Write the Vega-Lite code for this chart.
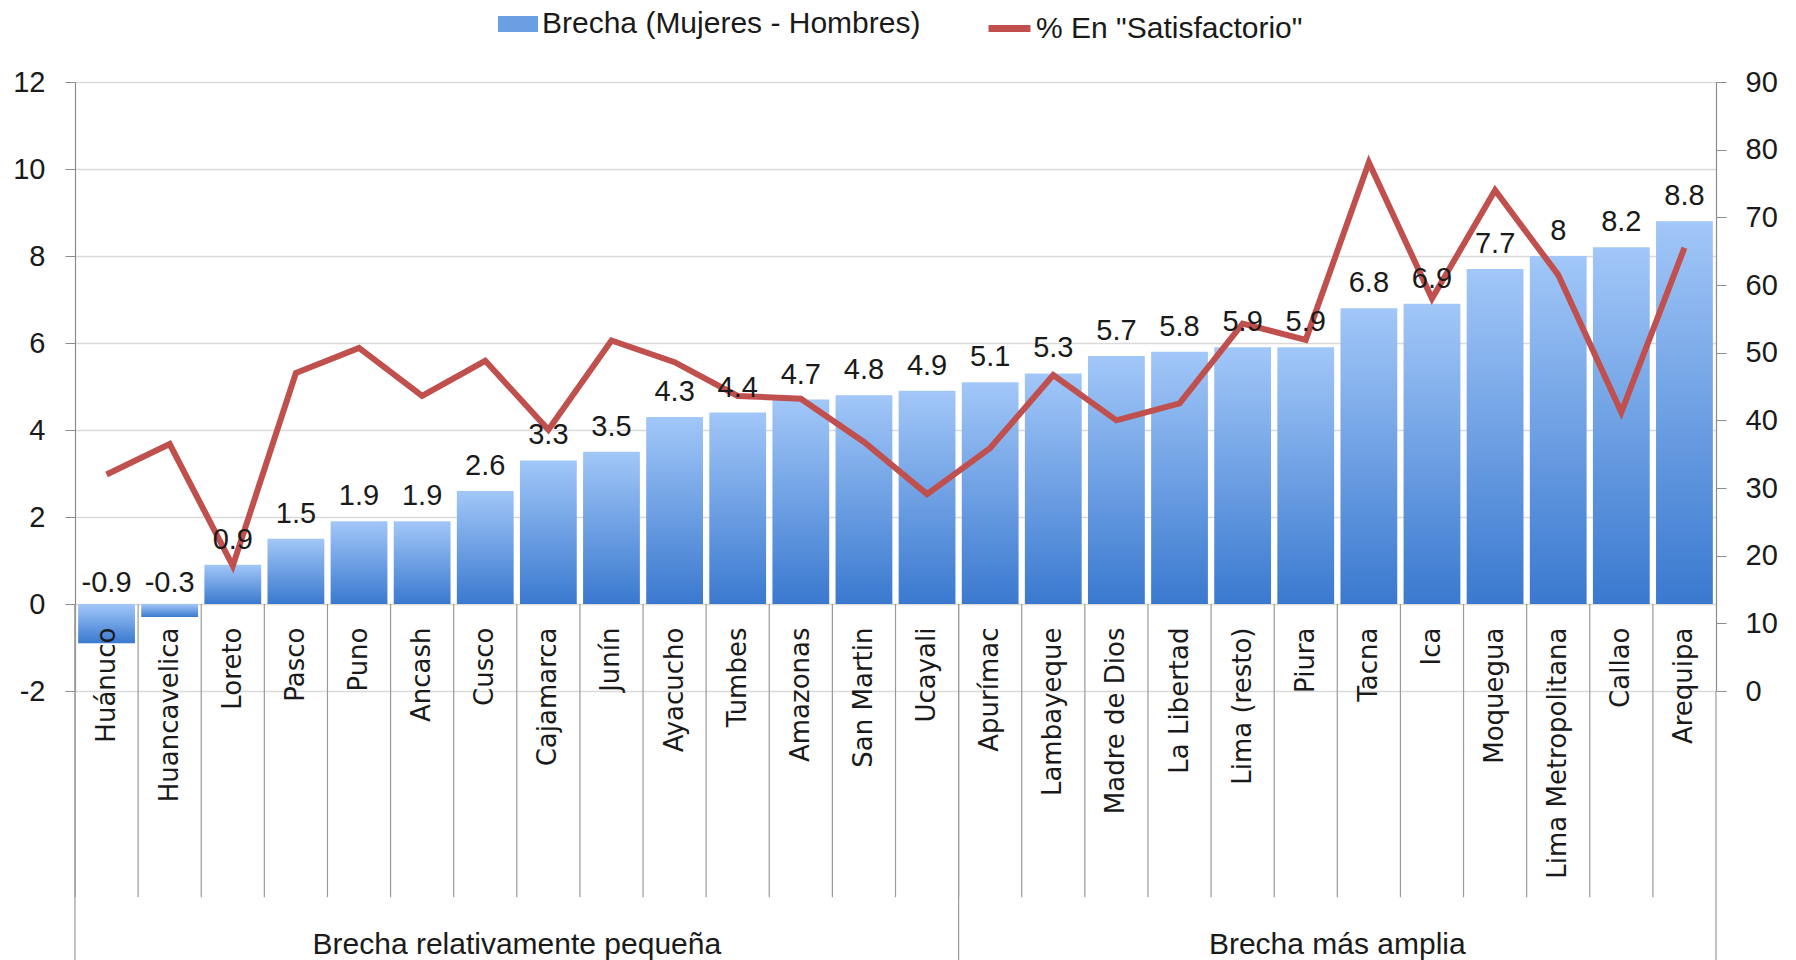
{
  "$schema": "https://vega.github.io/schema/vega-lite/v6.json",
  "width": 1641,
  "height": 609,
  "autosize": {"type": "none"},
  "padding": {"left": 75, "top": 82, "right": 80, "bottom": 269},
  "background": "white",
  "config": {
    "view": {"stroke": null},
    "scale": {"bandPaddingInner": 0, "bandPaddingOuter": 0},
    "axisBottom": {"offset": -87, "domain": false, "ticks": false, "grid": false, "labelAngle": 270, "labelPadding": 23, "labelFont": "DejaVu Sans", "labelFontSize": 26, "labelColor": "#1a1a1a", "labelLimit": 0, "labelOverlap": false},
    "axisLeft": {"grid": true, "gridColor": "#d9d9d9", "gridWidth": 1.5, "domainColor": "#8c8c8c", "domainWidth": 1.2, "tickColor": "#8c8c8c", "tickSize": 10, "labelPadding": 20, "labelFont": "Liberation Sans", "labelFontSize": 29, "labelColor": "#1a1a1a"},
    "axisRight": {"grid": false, "domainColor": "#8c8c8c", "domainWidth": 1.2, "tickColor": "#8c8c8c", "tickSize": 10, "labelPadding": 19, "labelFont": "Liberation Sans", "labelFontSize": 29, "labelColor": "#1a1a1a"}
  },
  "data": {"values": [
    {"region": "Huánuco", "brecha": -0.9, "pct": 32.0, "grupo": "Brecha relativamente pequeña"},
    {"region": "Huancavelica", "brecha": -0.3, "pct": 36.5, "grupo": "Brecha relativamente pequeña"},
    {"region": "Loreto", "brecha": 0.9, "pct": 18.5, "grupo": "Brecha relativamente pequeña"},
    {"region": "Pasco", "brecha": 1.5, "pct": 47.0, "grupo": "Brecha relativamente pequeña"},
    {"region": "Puno", "brecha": 1.9, "pct": 50.7, "grupo": "Brecha relativamente pequeña"},
    {"region": "Ancash", "brecha": 1.9, "pct": 43.6, "grupo": "Brecha relativamente pequeña"},
    {"region": "Cusco", "brecha": 2.6, "pct": 48.8, "grupo": "Brecha relativamente pequeña"},
    {"region": "Cajamarca", "brecha": 3.3, "pct": 38.6, "grupo": "Brecha relativamente pequeña"},
    {"region": "Junín", "brecha": 3.5, "pct": 51.8, "grupo": "Brecha relativamente pequeña"},
    {"region": "Ayacucho", "brecha": 4.3, "pct": 48.6, "grupo": "Brecha relativamente pequeña"},
    {"region": "Tumbes", "brecha": 4.4, "pct": 43.6, "grupo": "Brecha relativamente pequeña"},
    {"region": "Amazonas", "brecha": 4.7, "pct": 43.2, "grupo": "Brecha relativamente pequeña"},
    {"region": "San Martin", "brecha": 4.8, "pct": 36.8, "grupo": "Brecha relativamente pequeña"},
    {"region": "Ucayali", "brecha": 4.9, "pct": 29.1, "grupo": "Brecha relativamente pequeña"},
    {"region": "Apurímac", "brecha": 5.1, "pct": 35.9, "grupo": "Brecha más amplia"},
    {"region": "Lambayeque", "brecha": 5.3, "pct": 46.7, "grupo": "Brecha más amplia"},
    {"region": "Madre de Dios", "brecha": 5.7, "pct": 40.0, "grupo": "Brecha más amplia"},
    {"region": "La Libertad", "brecha": 5.8, "pct": 42.5, "grupo": "Brecha más amplia"},
    {"region": "Lima (resto)", "brecha": 5.9, "pct": 54.3, "grupo": "Brecha más amplia"},
    {"region": "Piura", "brecha": 5.9, "pct": 51.9, "grupo": "Brecha más amplia"},
    {"region": "Tacna", "brecha": 6.8, "pct": 78.1, "grupo": "Brecha más amplia"},
    {"region": "Ica", "brecha": 6.9, "pct": 58.0, "grupo": "Brecha más amplia"},
    {"region": "Moquegua", "brecha": 7.7, "pct": 74.0, "grupo": "Brecha más amplia"},
    {"region": "Lima Metropolitana", "brecha": 8.0, "pct": 61.5, "grupo": "Brecha más amplia"},
    {"region": "Callao", "brecha": 8.2, "pct": 41.2, "grupo": "Brecha más amplia"},
    {"region": "Arequipa", "brecha": 8.8, "pct": 65.5, "grupo": "Brecha más amplia"}
  ]},
  "layer": [
    {
      "layer": [
        {
          "mark": {"type": "bar", "width": {"band": 0.9},
            "fill": {"gradient": "linear", "x1": 0, "y1": 0, "x2": 0, "y2": 1, "stops": [{"offset": 0, "color": "#a2c7f8"}, {"offset": 1, "color": "#3a79cf"}]}},
          "encoding": {
            "x": {"field": "region", "type": "nominal",
              "scale": {"domain": ["Huánuco","Huancavelica","Loreto","Pasco","Puno","Ancash","Cusco","Cajamarca","Junín","Ayacucho","Tumbes","Amazonas","San Martin","Ucayali","Apurímac","Lambayeque","Madre de Dios","La Libertad","Lima (resto)","Piura","Tacna","Ica","Moquegua","Lima Metropolitana","Callao","Arequipa"]},
              "axis": {"title": null, "zindex": 1}},
            "y": {"field": "brecha", "type": "quantitative",
              "scale": {"domain": [-2, 12], "nice": false, "zero": false},
              "axis": {"title": null, "values": [-2, 0, 2, 4, 6, 8, 10, 12], "labelExpr": "datum.value < 0 ? '-' + abs(datum.value) : datum.label"}}
          }
        },
        {
          "mark": {"type": "rule", "color": "#9a9a9a", "strokeWidth": 1.2},
          "encoding": {
            "x": {"field": "region", "type": "nominal", "bandPosition": 0,
              "scale": {"domain": ["Huánuco","Huancavelica","Loreto","Pasco","Puno","Ancash","Cusco","Cajamarca","Junín","Ayacucho","Tumbes","Amazonas","San Martin","Ucayali","Apurímac","Lambayeque","Madre de Dios","La Libertad","Lima (resto)","Piura","Tacna","Ica","Moquegua","Lima Metropolitana","Callao","Arequipa"]}, "axis": {"title": null, "zindex": 1}},
            "y": {"datum": 0, "type": "quantitative", "scale": {"domain": [-2, 12], "nice": false, "zero": false}, "axis": {"title": null, "values": [-2, 0, 2, 4, 6, 8, 10, 12]}},
            "y2": {"datum": -6.74}
          }
        },
        {
          "transform": [{"filter": "datum.region == 'Huánuco' || datum.region == 'Apurímac'"}],
          "mark": {"type": "rule", "color": "#9a9a9a", "strokeWidth": 1.2},
          "encoding": {
            "x": {"field": "region", "type": "nominal", "bandPosition": 0,
              "scale": {"domain": ["Huánuco","Huancavelica","Loreto","Pasco","Puno","Ancash","Cusco","Cajamarca","Junín","Ayacucho","Tumbes","Amazonas","San Martin","Ucayali","Apurímac","Lambayeque","Madre de Dios","La Libertad","Lima (resto)","Piura","Tacna","Ica","Moquegua","Lima Metropolitana","Callao","Arequipa"]}, "axis": {"title": null, "zindex": 1}},
            "y": {"datum": 0, "type": "quantitative", "scale": {"domain": [-2, 12], "nice": false, "zero": false}, "axis": {"title": null, "values": [-2, 0, 2, 4, 6, 8, 10, 12]}},
            "y2": {"datum": -8.4}
          }
        },
        {
          "transform": [{"filter": "datum.region == 'Arequipa'"}],
          "mark": {"type": "rule", "color": "#9a9a9a", "strokeWidth": 1.2},
          "encoding": {
            "x": {"field": "region", "type": "nominal", "bandPosition": 1,
              "scale": {"domain": ["Huánuco","Huancavelica","Loreto","Pasco","Puno","Ancash","Cusco","Cajamarca","Junín","Ayacucho","Tumbes","Amazonas","San Martin","Ucayali","Apurímac","Lambayeque","Madre de Dios","La Libertad","Lima (resto)","Piura","Tacna","Ica","Moquegua","Lima Metropolitana","Callao","Arequipa"]}, "axis": {"title": null, "zindex": 1}},
            "y": {"datum": -2, "type": "quantitative", "scale": {"domain": [-2, 12], "nice": false, "zero": false}, "axis": {"title": null, "values": [-2, 0, 2, 4, 6, 8, 10, 12]}},
            "y2": {"datum": -8.4}
          }
        },
        {
          "transform": [{"filter": "datum.region == 'Cusco' || datum.region == 'Piura'"}],
          "mark": {"type": "text", "font": "Liberation Sans", "fontSize": 30, "color": "#1a1a1a", "align": "center", "baseline": "middle"},
          "encoding": {
            "x": {"field": "region", "type": "nominal", "bandPosition": 1,
              "scale": {"domain": ["Huánuco","Huancavelica","Loreto","Pasco","Puno","Ancash","Cusco","Cajamarca","Junín","Ayacucho","Tumbes","Amazonas","San Martin","Ucayali","Apurímac","Lambayeque","Madre de Dios","La Libertad","Lima (resto)","Piura","Tacna","Ica","Moquegua","Lima Metropolitana","Callao","Arequipa"]}, "axis": {"title": null, "zindex": 1}},
            "y": {"datum": -7.84, "type": "quantitative", "scale": {"domain": [-2, 12], "nice": false, "zero": false}, "axis": {"title": null, "values": [-2, 0, 2, 4, 6, 8, 10, 12]}},
            "text": {"field": "grupo", "type": "nominal"}
          }
        }
      ]
    },
    {
      "transform": [{"filter": "false"}],
      "mark": {"type": "square"},
      "encoding": {
        "color": {"datum": "Brecha (Mujeres - Hombres)", "type": "nominal",
          "scale": {"range": ["#6b9fe3"]},
          "legend": {"orient": "none", "legendX": 423, "legendY": -78, "title": null, "padding": 0, "symbolType": "M-1,-0.4H1V0.4H-1Z", "symbolSize": 1600, "symbolStrokeWidth": 0, "symbolOpacity": 1, "labelFont": "Liberation Sans", "labelFontSize": 30, "labelColor": "#1a1a1a", "labelOffset": 4, "labelLimit": 0}}
      }
    },
    {
      "mark": {"type": "line", "strokeWidth": 6, "strokeJoin": "miter"},
      "encoding": {
        "x": {"field": "region", "type": "nominal",
          "scale": {"domain": ["Huánuco","Huancavelica","Loreto","Pasco","Puno","Ancash","Cusco","Cajamarca","Junín","Ayacucho","Tumbes","Amazonas","San Martin","Ucayali","Apurímac","Lambayeque","Madre de Dios","La Libertad","Lima (resto)","Piura","Tacna","Ica","Moquegua","Lima Metropolitana","Callao","Arequipa"]}, "axis": {"title": null, "zindex": 1}},
        "y": {"field": "pct", "type": "quantitative",
          "scale": {"domain": [0, 90], "nice": false, "zero": false},
          "axis": {"title": null, "orient": "right", "values": [0, 10, 20, 30, 40, 50, 60, 70, 80, 90]}},
        "color": {"datum": "% En \"Satisfactorio\"", "type": "nominal",
          "scale": {"range": ["#c0504d"]},
          "legend": {"orient": "none", "legendX": 910, "legendY": -78, "title": null, "padding": 0, "symbolType": "stroke", "symbolSize": 1764, "symbolStrokeWidth": 7, "labelFont": "Liberation Sans", "labelFontSize": 30, "labelColor": "#1a1a1a", "labelOffset": 2, "labelLimit": 0}}
      }
    },
    {
      "layer": [
        {
          "transform": [{"filter": "datum.brecha >= 0"}],
          "mark": {"type": "text", "font": "Liberation Sans", "fontSize": 29, "color": "#1a1a1a", "align": "center", "baseline": "alphabetic", "dy": -16},
          "encoding": {
            "x": {"field": "region", "type": "nominal",
              "scale": {"domain": ["Huánuco","Huancavelica","Loreto","Pasco","Puno","Ancash","Cusco","Cajamarca","Junín","Ayacucho","Tumbes","Amazonas","San Martin","Ucayali","Apurímac","Lambayeque","Madre de Dios","La Libertad","Lima (resto)","Piura","Tacna","Ica","Moquegua","Lima Metropolitana","Callao","Arequipa"]}, "axis": {"title": null, "zindex": 1}},
            "y": {"field": "brecha", "type": "quantitative", "scale": {"domain": [-2, 12], "nice": false, "zero": false}, "axis": null},
            "text": {"field": "brecha", "type": "nominal"}
          }
        },
        {
          "transform": [{"filter": "datum.brecha < 0"}],
          "mark": {"type": "text", "font": "Liberation Sans", "fontSize": 29, "color": "#1a1a1a", "align": "center", "baseline": "alphabetic", "dy": -12},
          "encoding": {
            "x": {"field": "region", "type": "nominal",
              "scale": {"domain": ["Huánuco","Huancavelica","Loreto","Pasco","Puno","Ancash","Cusco","Cajamarca","Junín","Ayacucho","Tumbes","Amazonas","San Martin","Ucayali","Apurímac","Lambayeque","Madre de Dios","La Libertad","Lima (resto)","Piura","Tacna","Ica","Moquegua","Lima Metropolitana","Callao","Arequipa"]}, "axis": {"title": null, "zindex": 1}},
            "y": {"datum": 0, "type": "quantitative", "scale": {"domain": [-2, 12], "nice": false, "zero": false}, "axis": null},
            "text": {"field": "brecha", "type": "nominal"}
          }
        }
      ]
    }
  ],
  "resolve": {"scale": {"y": "independent", "color": "independent"}, "legend": {"color": "independent"}}
}
